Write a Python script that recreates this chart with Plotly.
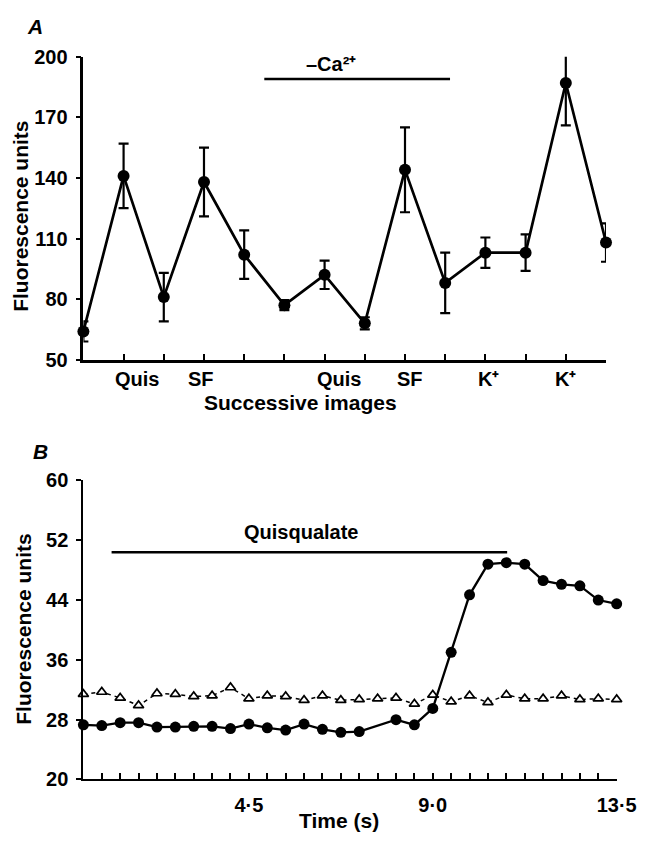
import plotly.graph_objects as go

# ---------------- Panel A data ----------------
a_index = [0, 1, 2, 3, 4, 5, 6, 7, 8, 9, 10, 11, 12, 13]
a_mean = [64, 141, 81, 138, 102, 77, 92, 68, 144, 88, 103, 103, 187, 108]
a_err = [5, 16, 12, 17, 12, 2.5, 7, 3, 21, 15, 7.5, 9, 21, 9.5]
a_ticks = [1, 2, 3, 4, 5, 6, 7, 8, 9, 10, 11, 12]
a_label_pos = [1, 3, 6, 8, 10, 12]
a_label_text = ["Quis", "SF", "Quis", "SF", "K⁺", "K⁺"]
a_label_shift = [13, -3, 14, 5, 3, 0]
a_yticks = [50, 80, 110, 140, 170, 200]
ca_bar_x = [4.5, 9.12]
ca_bar_y = [189, 189]

# ---------------- Panel B data ----------------
b_time = [0.45, 0.9, 1.35, 1.8, 2.25, 2.7, 3.15, 3.6, 4.05, 4.5,
          4.95, 5.4, 5.85, 6.3, 6.75, 7.2, 7.65, 8.1, 8.55, 9.0,
          9.45, 9.9, 10.35, 10.8, 11.25, 11.7, 12.15, 12.6, 13.05, 13.5]
b_circles = [27.3, 27.2, 27.6, 27.6, 27.0, 27.0, 27.1, 27.1, 26.8, 27.4,
             26.9, 26.6, 27.4, 26.7, 26.3, 26.4, None, 28.0, 27.3, 29.5,
             37.0, 44.7, 48.8, 49.0, 48.8, 46.6, 46.1, 45.9, 44.0, 43.5]
b_triangles = [31.4, 31.7, 30.9, 29.9, 31.5, 31.4, 31.1, 31.2, 32.3, 30.8,
               31.2, 31.1, 30.6, 31.2, 30.6, 30.7, 30.8, 30.9, 30.1, 31.3,
               30.4, 31.2, 30.3, 31.3, 30.8, 30.8, 31.2, 30.7, 30.8, 30.7]
b_xtick_vals = [4.5, 9.0, 13.5]
b_xtick_text = ["4·5", "9·0", "13·5"]
b_yticks = [20, 28, 36, 44, 52, 60]
quis_bar_x = [1.14, 10.82]
quis_bar_y = [50.4, 50.4]

FONT = "Liberation Sans, Arial, Helvetica, sans-serif"
W, H = 658, 844

fig = go.Figure()

# Panel A: line + error bars
fig.add_trace(go.Scatter(
    x=a_index, y=a_mean, mode="lines",
    line=dict(color="black", width=2.7),
    error_y=dict(type="data", array=a_err, visible=True, color="black",
                 thickness=2.2, width=5),
    xaxis="x", yaxis="y", hoverinfo="skip"))
fig.add_trace(go.Scatter(
    x=a_index, y=a_mean, mode="markers",
    marker=dict(color="black", size=12),
    cliponaxis=False, xaxis="x", yaxis="y"))
fig.add_trace(go.Scatter(
    x=ca_bar_x, y=ca_bar_y, mode="lines",
    line=dict(color="black", width=2.5), xaxis="x", yaxis="y"))

# Panel B
fig.add_trace(go.Scatter(
    x=b_time, y=b_triangles, mode="lines+markers",
    line=dict(color="black", width=1.5, dash="4px,4px"),
    marker=dict(symbol="triangle-up", size=9, color="white",
                line=dict(color="black", width=1.7)),
    cliponaxis=False, xaxis="x2", yaxis="y2"))
fig.add_trace(go.Scatter(
    x=b_time, y=b_circles, mode="lines+markers", connectgaps=True,
    line=dict(color="black", width=2.3),
    marker=dict(color="black", size=11),
    cliponaxis=False, xaxis="x2", yaxis="y2"))
fig.add_trace(go.Scatter(
    x=quis_bar_x, y=quis_bar_y, mode="lines",
    line=dict(color="black", width=2.5), xaxis="x2", yaxis="y2"))

tickfont = dict(family=FONT, size=20, color="black", weight="bold")

common_axis = dict(showline=True, linecolor="black", showgrid=False,
                   zeroline=False, tickcolor="black", fixedrange=True)

fig.update_layout(
    width=W, height=H,
    margin=dict(l=0, r=0, t=0, b=0),
    paper_bgcolor="white", plot_bgcolor="white",
    showlegend=False,
    font=dict(family=FONT, color="black"),
    xaxis=dict(domain=[86 / W, 625 / W], range=[0, 13], anchor="y",
               linewidth=2.5, ticks="inside", ticklen=6, tickwidth=2,
               tickmode="array", tickvals=a_ticks, showticklabels=False,
               **common_axis),
    yaxis=dict(domain=[1 - 358 / H, 1 - 47 / H], range=[50, 200], anchor="x",
               linewidth=2.5, ticks="outside", ticklen=5, tickwidth=2,
               tickmode="array", tickvals=a_yticks, tickfont=tickfont,
               ticklabelstandoff=4, **common_axis),
    xaxis2=dict(domain=[86 / W, 636 / W], range=[0.45, 13.5], anchor="y2",
                linewidth=2.2, ticks="inside", ticklen=6, tickwidth=1.8,
                tickmode="array", tickvals=b_xtick_vals, ticktext=b_xtick_text,
                minor=dict(tickmode="array", tickvals=b_time, ticks="inside",
                           ticklen=6, tickwidth=1.8, tickcolor="black",
                           showgrid=False),
                tickfont=tickfont, ticklabelstandoff=6, **common_axis),
    yaxis2=dict(domain=[1 - 789 / H, 1 - 482 / H], range=[20, 60], anchor="x2",
                linewidth=2.2, ticks="outside", ticklen=5, tickwidth=2,
                tickmode="array", tickvals=b_yticks, tickfont=tickfont,
                ticklabelstandoff=4, **common_axis),
)

annots = []
# Panel A category labels
for pos, txt, sh in zip(a_label_pos, a_label_text, a_label_shift):
    annots.append(dict(x=pos, y=1 - 378 / H, xref="x", yref="paper",
                       text=txt, showarrow=False, xshift=sh,
                       font=dict(family=FONT, size=20, weight="bold"),
                       xanchor="center", yanchor="middle"))
# Titles and panel letters
annots += [
    dict(x=310 / W, y=1 - 402 / H, xref="paper", yref="paper",
         text="Successive images", showarrow=False,
         font=dict(family=FONT, size=21, weight="bold"),
         xanchor="center", yanchor="middle"),
    dict(x=21 / W, y=1 - 211 / H, xref="paper", yref="paper",
         text="Fluorescence units", showarrow=False, textangle=-90,
         font=dict(family=FONT, size=21, weight="bold"),
         xanchor="center", yanchor="middle"),
    dict(x=24 / W, y=1 - 635 / H, xref="paper", yref="paper",
         text="Fluorescence units", showarrow=False, textangle=-90,
         font=dict(family=FONT, size=21, weight="bold"),
         xanchor="center", yanchor="middle"),
    dict(x=350 / W, y=1 - 831 / H, xref="paper", yref="paper",
         text="Time (s)", showarrow=False,
         font=dict(family=FONT, size=21, weight="bold"),
         xanchor="center", yanchor="middle"),
    dict(x=36 / W, y=1 - 16 / H, xref="paper", yref="paper",
         text="A", showarrow=False,
         font=dict(family=FONT, size=21, weight="bold", style="italic"),
         xanchor="center", yanchor="middle"),
    dict(x=42 / W, y=1 - 452 / H, xref="paper", yref="paper",
         text="B", showarrow=False,
         font=dict(family=FONT, size=21, weight="bold", style="italic"),
         xanchor="center", yanchor="middle"),
    dict(x=341 / W, y=1 - 54 / H, xref="paper", yref="paper",
         text="–Ca²⁺", showarrow=False,
         font=dict(family=FONT, size=20, weight="bold"),
         xanchor="center", yanchor="middle"),
    dict(x=310 / W, y=1 - 535 / H, xref="paper", yref="paper",
         text="Quisqualate", showarrow=False,
         font=dict(family=FONT, size=20, weight="bold"),
         xanchor="center", yanchor="middle"),
]
fig.update_layout(annotations=annots)

fig.write_html("out.html")
